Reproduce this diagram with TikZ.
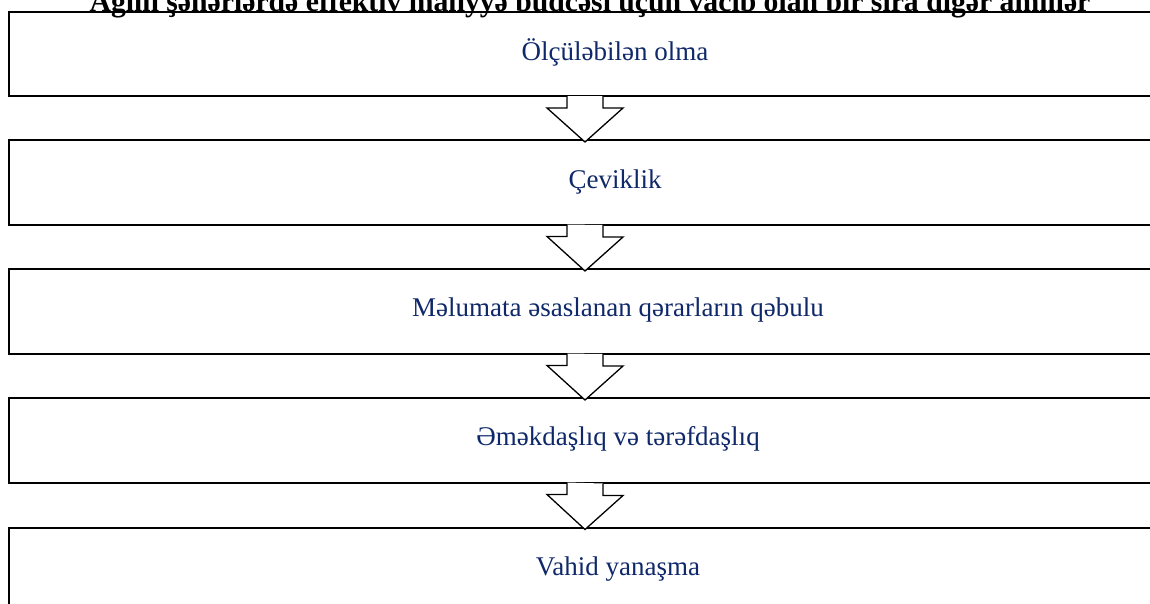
\documentclass[tikz,border=0pt]{standalone}
\usepackage{fontspec}
\setmainfont{Liberation Serif}
\usetikzlibrary{calc}
\definecolor{navy}{RGB}{15,40,105}
\begin{document}
\begin{tikzpicture}[x=1pt,y=-1pt,
  box/.style={draw=black,line width=2pt,minimum width=1220pt,minimum height=84.5pt,
    anchor=north west,inner sep=0pt,outer sep=0pt},
  lbl/.style={text=navy,font=\fontsize{27}{30}\selectfont,anchor=base,inner sep=0pt},
  ttl/.style={text=black,font=\bfseries\fontsize{29.7}{32}\selectfont,anchor=base,inner sep=0pt},
  hollow/.style={draw=black,line width=1.3pt,fill=white,line join=miter}]
\useasboundingbox (0,0) rectangle (1150,603);
\coordinate (ax) at (585,0);
\node[ttl] (title) at (590,11) {Ağıllı şəhərlərdə effektiv maliyyə büdcəsi üçün vacib olan bir sıra digər amillər};
\node[box] (b1) at (8.5,11.5) {};
\node[box] (b2) at (8.5,140) {};
\node[box] (b3) at (8.5,269) {};
\node[box] (b4) at (8.5,398) {};
\node[box] (b5) at (8.5,527.5) {};
\node[lbl] (t1) at (615,60) {Ölçüləbilən olma};
\node[lbl] (t2) at (615,188) {Çeviklik};
\node[lbl] (t3) at (618,316) {Məlumata əsaslanan qərarların qəbulu};
\node[lbl] (t4) at (618,445) {Əməkdaşlıq və tərəfdaşlıq};
\node[lbl] (t5) at (618,575) {Vahid yanaşma};
\foreach \a/\b in {b1/b2,b2/b3,b3/b4,b4/b5}{
  \draw[hollow] ($(\a.south -| ax)+(-18,0)$) -- ++(0,12) -- ++(-20,0)
     -- ($(\b.north -| ax)+(0,2)$) -- ++(38,-34) -- ++(-20,0) -- ++(0,-12);
}
\end{tikzpicture}
\end{document}
